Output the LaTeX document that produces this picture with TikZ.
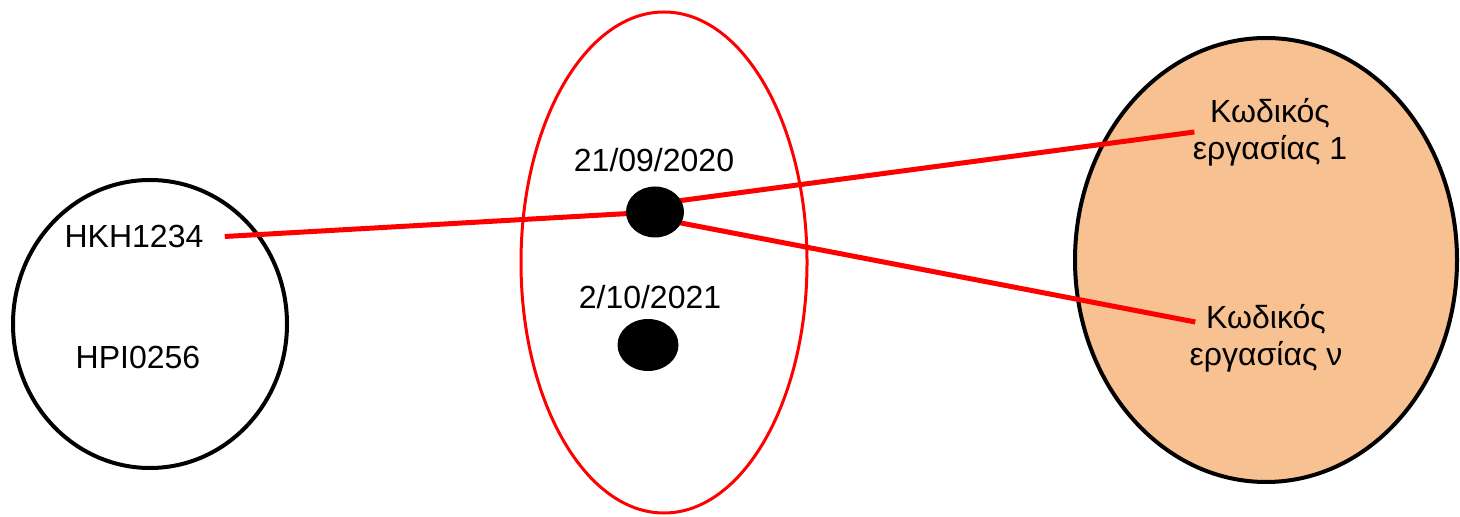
\documentclass[tikz,border=0pt]{standalone}
\usepackage{fontspec}
\setmainfont{Liberation Sans}
\usetikzlibrary{shapes.geometric}
\definecolor{peach}{RGB}{248,193,145}
\pgfdeclarelayer{bg}
\pgfdeclarelayer{mid}
\pgfsetlayers{bg,mid,main}
\begin{document}
\begin{tikzpicture}[x=0.5pt,y=-0.5pt,
  lbl/.style={inner sep=0pt,font=\fontsize{16}{18.5}\selectfont,align=center},
  blob/.style={ellipse,inner sep=0pt},
  dot/.style={ellipse,fill=black,inner sep=0pt},
  link/.style={draw=red,line width=2.5pt}]
\useasboundingbox (0,0) rectangle (1460,517);
\begin{pgfonlayer}{bg}
\node[blob,draw=black,line width=2pt,fill=white,minimum width=137pt,minimum height=144pt] (codes) at (150,324) {};
\node[blob,draw=red,line width=1.5pt,minimum width=143pt,minimum height=250.5pt] (dates) at (664,262.5) {};
\node[blob,draw=black,line width=2pt,fill=peach,minimum width=191pt,minimum height=222pt] (tasks) at (1266,260) {};
\end{pgfonlayer}
\node[lbl] (hkh) at (134,236.5) {HKH1234};
\node[lbl] (hpi) at (138,357) {HPI0256};
\node[lbl] (dt1) at (654,160) {21/09/2020};
\node[lbl] (dt2) at (650,297) {2/10/2021};
\node[lbl] (t1) at (1270,132) {Κωδικός\\εργασίας 1};
\node[lbl] (tn) at (1266,338) {Κωδικός\\εργασίας ν};
\node[dot,minimum width=29pt,minimum height=25.5pt] (d1) at (655,212) {};
\node[dot,minimum width=30.5pt,minimum height=26pt] (d2) at (648,345) {};
\begin{pgfonlayer}{mid}
\draw[link] ([xshift=10.5pt]hkh.east) -- (d1.center);
\draw[link] ([yshift=4pt]d1.center) -- ([xshift=1pt]t1.west);
\draw[link] ([yshift=-3pt]d1.center) -- ([xshift=3pt,yshift=8pt]tn.west);
\end{pgfonlayer}
\end{tikzpicture}
\end{document}
